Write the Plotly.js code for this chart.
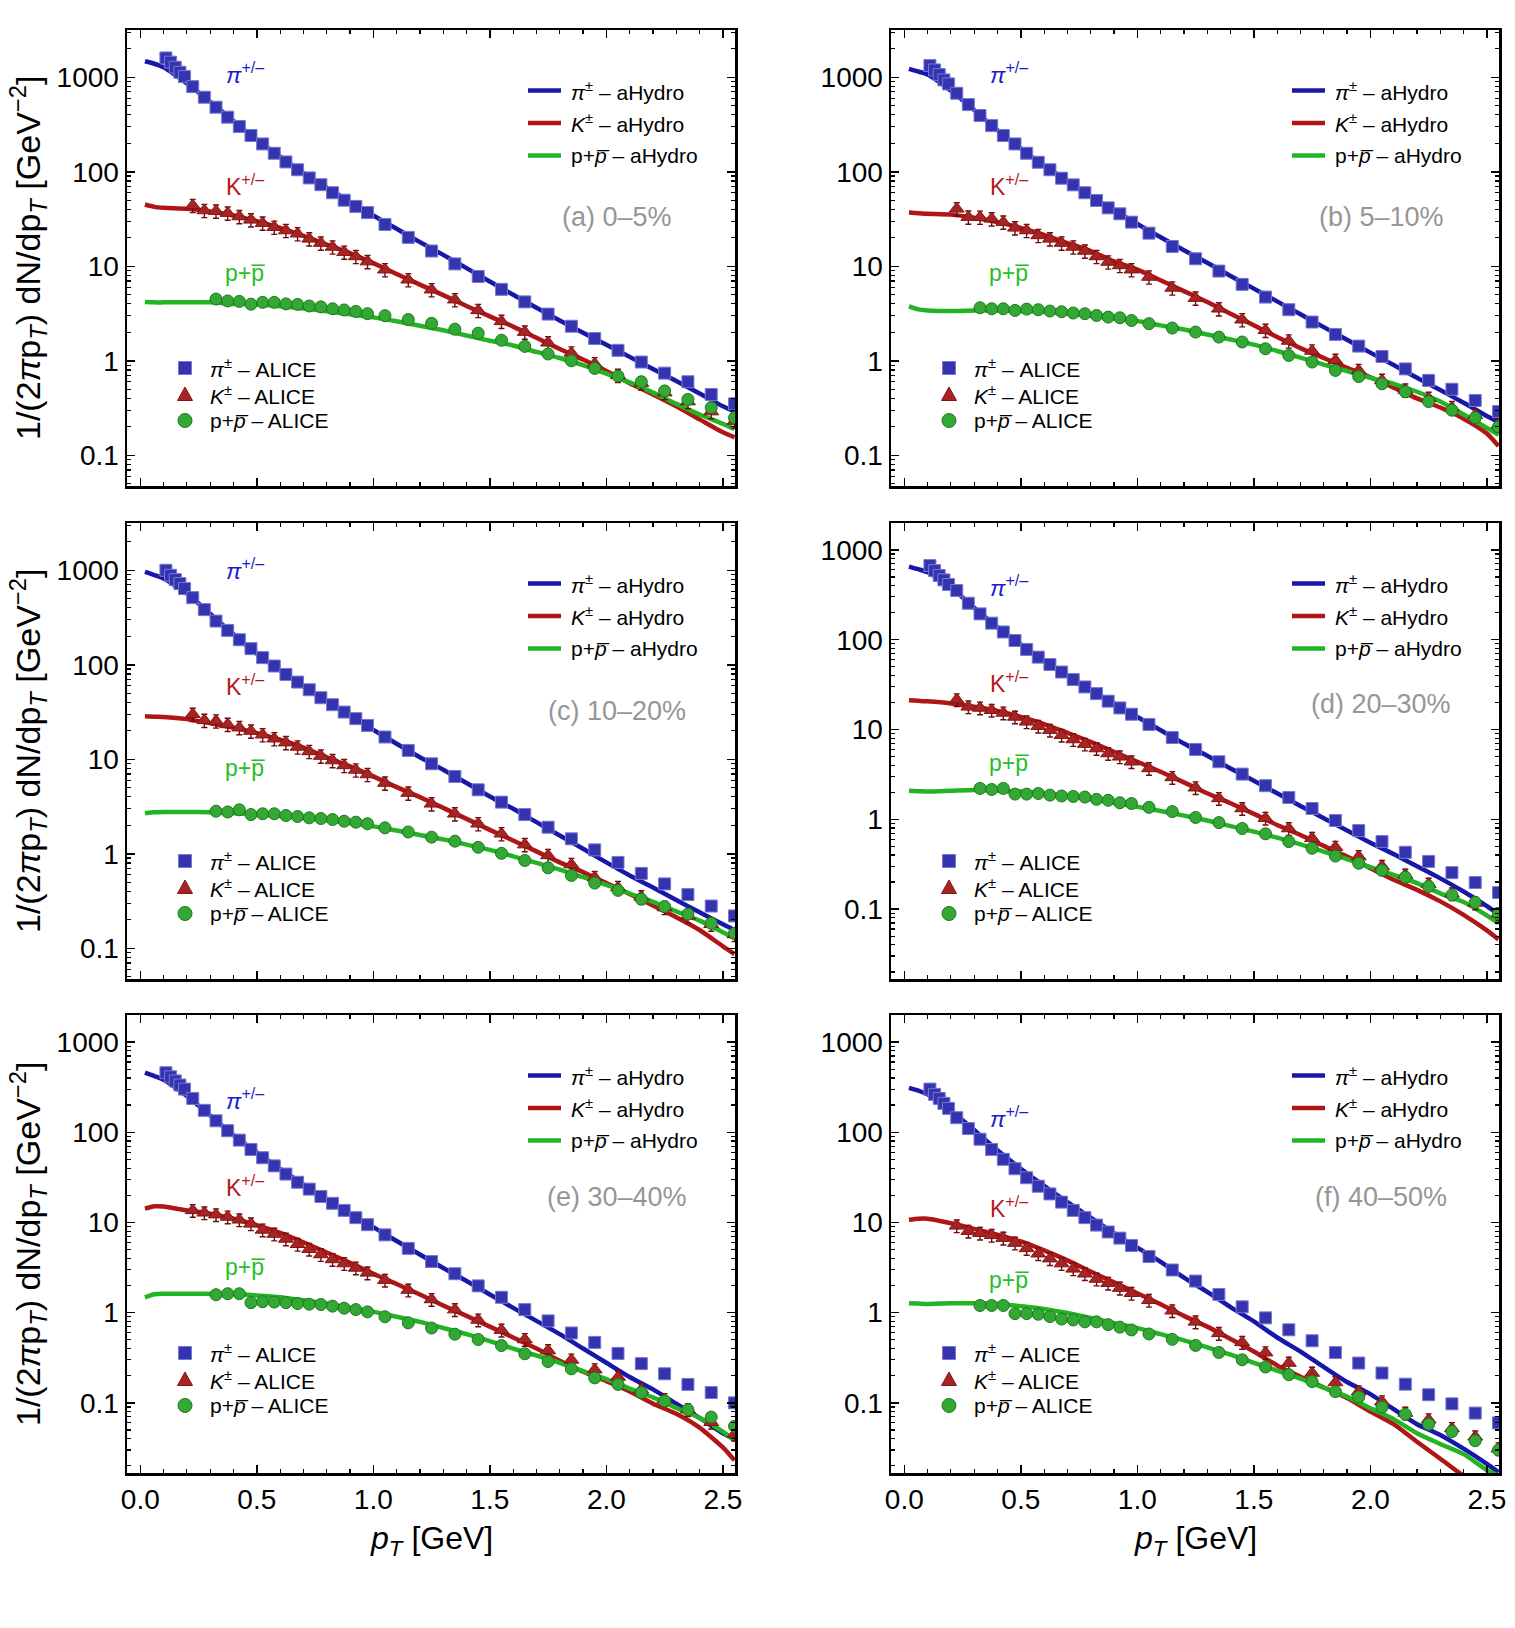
<!DOCTYPE html>
<html>
<head>
<meta charset="utf-8">
<script src="https://cdn.plot.ly/plotly-3.0.1.min.js"></script>
<style>
  html, body { margin: 0; padding: 0; background: #ffffff; }
  #chart { width: 1515px; height: 1628px; }
</style>
</head>
<body>
<div id="chart"></div>
<script>
// ---------------------------------------------------------------------------
// Transverse momenta (GeV)
// ---------------------------------------------------------------------------
const pTModel = [0.02, 0.06, 0.1, 0.2, 0.3, 0.4, 0.5, 0.6, 0.7, 0.8, 0.9, 1.0, 1.1, 1.2,
  1.3, 1.4, 1.5, 1.6, 1.7, 1.8, 1.9, 2.0, 2.1, 2.2, 2.3, 2.4, 2.5, 2.55];

const pTPion = [0.11, 0.13, 0.15, 0.17, 0.19, 0.225, 0.275, 0.325, 0.375, 0.425, 0.475,
  0.525, 0.575, 0.625, 0.675, 0.725, 0.775, 0.825, 0.875, 0.925, 0.975, 1.05, 1.15, 1.25,
  1.35, 1.45, 1.55, 1.65, 1.75, 1.85, 1.95, 2.05, 2.15, 2.25, 2.35, 2.45, 2.55];

const pTKaon = [0.225, 0.275, 0.325, 0.375, 0.425, 0.475, 0.525, 0.575, 0.625, 0.675,
  0.725, 0.775, 0.825, 0.875, 0.925, 0.975, 1.05, 1.15, 1.25, 1.35, 1.45, 1.55, 1.65,
  1.75, 1.85, 1.95, 2.05, 2.15, 2.25, 2.35, 2.45, 2.55];

const pTProton = [0.325, 0.375, 0.425, 0.475, 0.525, 0.575, 0.625, 0.675, 0.725, 0.775,
  0.825, 0.875, 0.925, 0.975, 1.05, 1.15, 1.25, 1.35, 1.45, 1.55, 1.65, 1.75, 1.85, 1.95,
  2.05, 2.15, 2.25, 2.35, 2.45, 2.55];

// ---------------------------------------------------------------------------
// aHydro spectra 1/(2π pT) dN/dpT  [GeV^-2] on the pTModel grid
// ---------------------------------------------------------------------------
const piModelA = [1475, 1390, 1275, 860, 550, 345, 218, 145, 97, 68, 48, 34.4, 24.9, 18.0,
  13.2, 9.55, 6.9, 5.0, 3.64, 2.67, 1.98, 1.48, 1.10, 0.82, 0.61, 0.45, 0.33, 0.29];
const kModelA = [45, 42.5, 41.5, 40.5, 38, 34.5, 30, 25.5, 21, 17, 13.8, 10.8, 8.3, 6.4,
  4.95, 3.8, 2.95, 2.3, 1.75, 1.33, 1.03, 0.78, 0.58, 0.44, 0.33, 0.24, 0.175, 0.155];
const pModelA = [4.18, 4.15, 4.15, 4.15, 4.15, 4.0, 3.95, 3.78, 3.58, 3.35, 3.1, 2.88, 2.62,
  2.35, 2.1, 1.85, 1.63, 1.45, 1.24, 1.07, 0.9, 0.73, 0.59, 0.46, 0.35, 0.27, 0.215, 0.19];

const piModelB = [1225, 1150, 1070, 720, 450, 275, 176, 116, 80, 55, 39, 28, 20.3, 14.8,
  10.9, 7.9, 5.8, 4.25, 3.1, 2.27, 1.67, 1.22, 0.9, 0.66, 0.49, 0.36, 0.26, 0.225];
const kModelB = [37, 36.5, 35.9, 35.2, 32.6, 29.3, 25.5, 21.5, 17.6, 14.5, 11.3, 9.2, 7.1,
  5.46, 4.18, 3.15, 2.37, 1.78, 1.36, 1.07, 0.84, 0.67, 0.52, 0.40, 0.32, 0.244, 0.17, 0.125];
const pModelB = [3.76, 3.5, 3.41, 3.36, 3.41, 3.41, 3.36, 3.3, 3.15, 3.0, 2.8, 2.63, 2.37,
  2.14, 1.9, 1.68, 1.48, 1.27, 1.08, 0.91, 0.78, 0.66, 0.57, 0.47, 0.37, 0.27, 0.195, 0.165];

const piModelC = [960, 890, 816, 566, 347, 210, 131, 87, 59, 41.3, 29.1, 20.5, 14.6, 10.5,
  7.74, 5.6, 4.04, 2.99, 2.16, 1.56, 1.13, 0.81, 0.59, 0.44, 0.325, 0.24, 0.18, 0.156];
const kModelC = [28.5, 28.2, 28, 26.6, 24.1, 21.6, 18.9, 16.1, 13.3, 10.5, 8.4, 6.6, 5.07,
  3.97, 3.06, 2.34, 1.79, 1.38, 1.06, 0.81, 0.64, 0.49, 0.376, 0.283, 0.213, 0.156, 0.105, 0.087];
const pModelC = [2.69, 2.75, 2.77, 2.77, 2.75, 2.69, 2.6, 2.51, 2.4, 2.26, 2.12, 1.95, 1.76,
  1.58, 1.42, 1.25, 1.1, 0.94, 0.80, 0.68, 0.565, 0.47, 0.38, 0.31, 0.246, 0.196, 0.148, 0.128];

const piModelD = [653, 610, 565, 385, 227, 138, 88.8, 58, 39.5, 27.4, 19.5, 13.8, 9.84, 6.99,
  5.1, 3.69, 2.69, 1.95, 1.41, 1.03, 0.75, 0.55, 0.41, 0.30, 0.22, 0.157, 0.108, 0.088];
const kModelD = [21.2, 20.9, 20.6, 19.5, 17.9, 16.1, 13.8, 11.5, 9.18, 7.3, 5.65, 4.38, 3.39,
  2.58, 1.95, 1.51, 1.15, 0.865, 0.67, 0.506, 0.385, 0.286, 0.212, 0.164, 0.122, 0.0865, 0.058, 0.046];
const pModelD = [2.08, 2.06, 2.04, 2.08, 2.12, 2.08, 2.04, 1.94, 1.82, 1.67, 1.53, 1.38, 1.24,
  1.1, 0.97, 0.84, 0.73, 0.625, 0.527, 0.437, 0.36, 0.293, 0.24, 0.195, 0.15, 0.12, 0.085, 0.07];

const piModelE = [457, 420, 383, 252, 153, 92.8, 59.8, 39.4, 26.5, 18.0, 12.5, 8.87, 6.22,
  4.41, 3.13, 2.24, 1.59, 1.13, 0.81, 0.577, 0.40, 0.278, 0.193, 0.141, 0.098, 0.068, 0.046, 0.04];
const kModelE = [14.2, 15.1, 15.0, 13.6, 12.5, 11.0, 9.35, 7.66, 6.03, 4.64, 3.58, 2.7, 2.08,
  1.59, 1.2, 0.92, 0.70, 0.53, 0.40, 0.293, 0.221, 0.174, 0.134, 0.098, 0.0755, 0.053, 0.032, 0.023];
const pModelE = [1.48, 1.6, 1.62, 1.62, 1.62, 1.62, 1.55, 1.48, 1.37, 1.26, 1.13, 1.02, 0.90,
  0.79, 0.675, 0.577, 0.483, 0.40, 0.335, 0.278, 0.225, 0.183, 0.144, 0.115, 0.088, 0.068, 0.048, 0.038];

const piModelF = [311, 290, 263, 173, 106, 63, 39.4, 25.4, 16.8, 11.3, 7.59, 5.26, 3.66, 2.45,
  1.7, 1.15, 0.8, 0.53, 0.37, 0.25, 0.17, 0.125, 0.085, 0.058, 0.044, 0.031, 0.021, 0.017];
const kModelF = [10.7, 11.0, 11.0, 9.8, 8.5, 7.3, 6.15, 4.9, 3.8, 2.85, 2.17, 1.64, 1.24, 0.92,
  0.70, 0.51, 0.37, 0.26, 0.195, 0.148, 0.113, 0.08, 0.058, 0.037, 0.024, 0.0155, 0.011, 0.0095];
const pModelF = [1.27, 1.26, 1.25, 1.27, 1.27, 1.25, 1.18, 1.10, 0.99, 0.875, 0.764, 0.674,
  0.577, 0.493, 0.413, 0.342, 0.278, 0.228, 0.185, 0.147, 0.117, 0.087, 0.066, 0.046, 0.035,
  0.027, 0.018, 0.0155];

// ---------------------------------------------------------------------------
// ALICE measurements on the pTPion / pTKaon / pTProton bins
// ---------------------------------------------------------------------------
const piDataA = [1600, 1443, 1276, 1129, 1016, 796, 615, 482, 378, 301, 242, 197, 157, 127,
  105, 86, 73, 60, 50, 43, 37, 27.7, 20.2, 14.5, 10.6, 7.8, 5.7, 4.2, 3.12, 2.32, 1.72, 1.29,
  0.97, 0.74, 0.60, 0.44, 0.35];
const kDataA = [44, 38.9, 38.3, 36.5, 33.6, 31, 28.6, 25.9, 23.9, 22.1, 19.5, 17.6, 16, 14.1,
  12.7, 11.2, 9.2, 7.2, 5.65, 4.43, 3.41, 2.61, 2.01, 1.55, 1.21, 0.93, 0.70, 0.58, 0.46, 0.37,
  0.29, 0.23];
const pDataA = [4.5, 4.3, 4.25, 3.97, 4.15, 4.15, 4.0, 3.95, 3.8, 3.72, 3.55, 3.45, 3.33, 3.15,
  3.0, 2.73, 2.49, 2.16, 1.96, 1.65, 1.42, 1.18, 1.0, 0.83, 0.69, 0.60, 0.48, 0.39, 0.32, 0.25];

const piDataB = [1330, 1195, 1067, 937, 850, 677, 514, 394, 308, 242, 197, 157, 126, 105,
  85.5, 72.7, 60, 49.7, 41.5, 35.9, 29.3, 22.4, 16.2, 12.0, 8.9, 6.43, 4.72, 3.47, 2.57, 1.9,
  1.43, 1.11, 0.82, 0.62, 0.50, 0.38, 0.29];
const kDataB = [40.5, 33.1, 33, 31.8, 29.3, 25.5, 23.9, 21.2, 19.5, 17.6, 16.0, 14.5, 12.7,
  11.1, 10.2, 9.2, 7.7, 5.9, 4.6, 3.55, 2.72, 2.1, 1.62, 1.27, 1.01, 0.79, 0.62, 0.49, 0.40,
  0.32, 0.265, 0.21];
const pDataB = [3.64, 3.55, 3.55, 3.41, 3.52, 3.47, 3.36, 3.3, 3.2, 3.15, 3.02, 2.9, 2.85,
  2.67, 2.47, 2.22, 2.01, 1.78, 1.58, 1.34, 1.14, 0.97, 0.79, 0.68, 0.57, 0.47, 0.37, 0.30,
  0.25, 0.20];

const piDataC = [1000, 885, 796, 723, 640, 513, 383, 290, 231, 184, 148, 119, 97, 79, 65.6,
  54.4, 44.8, 37.8, 31.6, 26.9, 22.8, 17.2, 12.4, 8.96, 6.58, 4.75, 3.52, 2.6, 1.91, 1.44, 1.1,
  0.81, 0.62, 0.48, 0.37, 0.28, 0.22];
const kDataC = [29.9, 25.8, 25.4, 23.4, 21.6, 19.9, 18.2, 16.5, 15.0, 13.5, 12.1, 10.8, 9.7,
  8.6, 7.7, 6.9, 5.6, 4.39, 3.38, 2.65, 2.08, 1.63, 1.25, 0.96, 0.77, 0.56, 0.44, 0.35, 0.27,
  0.22, 0.18, 0.14];
const pDataC = [2.82, 2.77, 2.92, 2.6, 2.65, 2.65, 2.54, 2.48, 2.4, 2.36, 2.3, 2.21, 2.16,
  2.08, 1.88, 1.7, 1.5, 1.36, 1.17, 1.01, 0.85, 0.71, 0.59, 0.49, 0.41, 0.33, 0.276, 0.23,
  0.184, 0.144];

const piDataD = [670, 589, 519, 464, 412, 353, 255, 194, 153, 122, 98, 78, 64, 53, 43.7, 36,
  29.8, 25.1, 20.7, 17.4, 14.8, 11.4, 8.15, 6.0, 4.38, 3.19, 2.37, 1.75, 1.32, 0.97, 0.75,
  0.565, 0.43, 0.34, 0.255, 0.198, 0.153];
const kDataD = [21.5, 17.9, 17.4, 16.4, 15.3, 13.8, 12.2, 10.9, 9.84, 8.65, 7.74, 6.88, 6.15,
  5.41, 4.97, 4.38, 3.69, 2.93, 2.25, 1.71, 1.32, 1.03, 0.79, 0.615, 0.49, 0.385, 0.30, 0.24,
  0.19, 0.148, 0.117, 0.089];
const pDataD = [2.21, 2.15, 2.21, 1.91, 1.91, 1.94, 1.86, 1.82, 1.8, 1.77, 1.67, 1.63, 1.53,
  1.5, 1.36, 1.22, 1.05, 0.92, 0.79, 0.69, 0.565, 0.476, 0.39, 0.324, 0.27, 0.227, 0.179,
  0.144, 0.119, 0.089];

const piDataE = [457, 412, 371, 334, 301, 237, 175, 134, 104, 81.8, 64.4, 52.2, 42.4, 34.4,
  27.9, 23.4, 19.4, 16.3, 13.6, 11.3, 9.45, 7.28, 5.16, 3.69, 2.7, 1.98, 1.48, 1.08, 0.81,
  0.595, 0.468, 0.353, 0.272, 0.21, 0.16, 0.13, 0.1];
const kDataE = [13.6, 12.8, 12.2, 11.5, 10.7, 9.65, 8.25, 7.43, 6.56, 5.73, 5.05, 4.41, 3.89,
  3.5, 3.13, 2.76, 2.29, 1.78, 1.4, 1.08, 0.83, 0.64, 0.504, 0.38, 0.299, 0.233, 0.193, 0.14,
  0.109, 0.084, 0.061, 0.045];
const pDataE = [1.58, 1.62, 1.62, 1.29, 1.32, 1.31, 1.29, 1.26, 1.24, 1.23, 1.18, 1.12, 1.08,
  1.02, 0.90, 0.77, 0.675, 0.577, 0.504, 0.431, 0.35, 0.287, 0.238, 0.189, 0.16, 0.13, 0.105,
  0.084, 0.0695, 0.055];

const piDataF = [301, 263, 237, 209, 184, 145, 110, 83.6, 64.4, 50.1, 39.4, 31.3, 25.2, 20.7,
  16.8, 13.6, 11.3, 9.35, 7.84, 6.7, 5.55, 4.19, 2.97, 2.24, 1.59, 1.16, 0.875, 0.645, 0.488,
  0.361, 0.276, 0.214, 0.161, 0.123, 0.0975, 0.077, 0.060];
const kDataF = [9.17, 8.0, 7.6, 7.2, 6.7, 5.91, 5.16, 4.5, 3.97, 3.5, 3.06, 2.7, 2.36, 2.12,
  1.87, 1.64, 1.37, 1.05, 0.79, 0.589, 0.468, 0.36, 0.276, 0.214, 0.168, 0.133, 0.103, 0.077,
  0.065, 0.052, 0.042, 0.031];
const pDataF = [1.2, 1.2, 1.2, 0.975, 0.975, 0.96, 0.905, 0.85, 0.83, 0.79, 0.79, 0.736, 0.69,
  0.643, 0.58, 0.506, 0.433, 0.362, 0.30, 0.25, 0.205, 0.172, 0.133, 0.116, 0.0895, 0.0748,
  0.058, 0.048, 0.038, 0.030];

// Centrality classes and axis tick labels
const centralityLabels = ['(a) 0\u20135%', '(b) 5\u201310%', '(c) 10\u201320%',
  '(d) 20\u201330%', '(e) 30\u201340%', '(f) 40\u201350%'];
const xTickVals = [0, 0.5, 1.0, 1.5, 2.0, 2.5];
const xTickText = ['0.0', '0.5', '1.0', '1.5', '2.0', '2.5'];
const yTickVals = [0.1, 1, 10, 100, 1000];
const yTickText = ['0.1', '1', '10', '100', '1000'];

// ---------------------------------------------------------------------------
// Page geometry and styling
// ---------------------------------------------------------------------------
const W = 1515, H = 1628;
const FONT = '"Liberation Sans", Arial, Helvetica, sans-serif';
const COL_LEFT = [127, 891];
const PANEL_W = 608;
const ROW_TOP = [30, 523, 1015];
const PANEL_H = [456, 456, 458];
const X_RANGE = [-0.057, 2.552];
const Y_RANGE_CENTRAL = [-1.325, 3.5];
const Y_RANGE_PERIPH = [-1.778, 3.3];

const BLUE = 'rgb(24,24,168)', RED = 'rgb(176,22,22)', GREEN = 'rgb(34,180,34)';
const STYLE = {
  pion:   { line: BLUE,  fill: 'rgb(52,52,176)',  edge: 'rgb(120,120,210)', err: 'rgb(20,20,90)',  sym: 'square',      size: 12, errPct: 5,  label: 'rgb(28,28,205)' },
  kaon:   { line: RED,   fill: 'rgb(168,36,36)',  edge: 'rgb(130,20,20)',   err: 'rgb(110,10,10)', sym: 'triangle-up', size: 13, errPct: 16, label: 'rgb(182,24,24)' },
  proton: { line: GREEN, fill: 'rgb(52,168,52)',  edge: 'rgb(30,120,30)',   err: 'rgb(20,95,20)',  sym: 'circle',      size: 12, errPct: 9,  label: 'rgb(40,190,40)' }
};

const panels = [
  { pi: piModelA, k: kModelA, p: pModelA, piD: piDataA, kD: kDataA, pD: pDataA, yr: Y_RANGE_CENTRAL },
  { pi: piModelB, k: kModelB, p: pModelB, piD: piDataB, kD: kDataB, pD: pDataB, yr: Y_RANGE_CENTRAL },
  { pi: piModelC, k: kModelC, p: pModelC, piD: piDataC, kD: kDataC, pD: pDataC, yr: Y_RANGE_CENTRAL },
  { pi: piModelD, k: kModelD, p: pModelD, piD: piDataD, kD: kDataD, pD: pDataD, yr: Y_RANGE_PERIPH },
  { pi: piModelE, k: kModelE, p: pModelE, piD: piDataE, kD: kDataE, pD: pDataE, yr: Y_RANGE_PERIPH },
  { pi: piModelF, k: kModelF, p: pModelF, piD: piDataF, kD: kDataF, pD: pDataF, yr: Y_RANGE_PERIPH }
];

// in-panel label placement (pixel offsets from the panel's top-left corner)
const SPECIES_LABEL_X = 118;
const SPECIES_LABEL_Y = [[43, 155, 243], [43, 155, 243], [46, 162, 245],
                         [63, 159, 240], [84, 171, 252], [102, 192, 265]];
const CENT_LABEL_X = 490;
const CENT_LABEL_Y = [187, 187, 188, 181, 182, 182];

const fx = px => px / W;
const fy = py => 1 - py / H;

// minor tick positions on the logarithmic axes
const yMinor = [];
for (let e = -2; e <= 3; e++) {
  for (let m = 2; m <= 9; m++) yMinor.push(m * Math.pow(10, e));
}
const xMinor = [];
for (let t = 1; t <= 25; t++) if (t % 5 !== 0) xMinor.push(t / 10);

const traces = [];
const annotations = [];
const shapes = [];
const layout = {
  width: W, height: H,
  margin: { l: 0, r: 0, t: 0, b: 0 },
  paper_bgcolor: '#ffffff',
  plot_bgcolor: '#ffffff',
  showlegend: false,
  font: { family: FONT, color: '#000000' }
};

const speciesText = [
  '<i>\u03c0</i><sup>+/\u2013</sup>',
  'K<sup>+/\u2013</sup>',
  'p+p\u0305'
];
const modelLegend = [
  '<i>\u03c0</i><sup>\u00b1</sup> \u2013 aHydro',
  '<i>K</i><sup>\u00b1</sup> \u2013 aHydro',
  'p+<i>p\u0305</i> \u2013 aHydro'
];
const dataLegend = [
  '<i>\u03c0</i><sup>\u00b1</sup> \u2013 ALICE',
  '<i>K</i><sup>\u00b1</sup> \u2013 ALICE',
  'p+<i>p\u0305</i> \u2013 ALICE'
];
const speciesKeys = ['pion', 'kaon', 'proton'];

panels.forEach((P, i) => {
  const n = i === 0 ? '' : String(i + 1);
  const xa = 'x' + n, ya = 'y' + n;
  const col = i % 2, row = Math.floor(i / 2);
  const left = COL_LEFT[col], top = ROW_TOP[row], h = PANEL_H[row];
  const bottomRow = row === 2;

  layout['xaxis' + n] = {
    domain: [fx(left), fx(left + PANEL_W)],
    anchor: ya,
    range: X_RANGE,
    showgrid: false, zeroline: false,
    showline: true, linecolor: '#000', linewidth: 2.5, mirror: 'allticks',
    ticks: 'inside', ticklen: 8, tickwidth: 1.5, tickcolor: '#000',
    tickmode: 'array', tickvals: xTickVals, ticktext: xTickText,
    showticklabels: bottomRow,
    tickfont: { family: FONT, size: 28, color: '#000' },
    minor: { tickmode: 'array', tickvals: xMinor, ticks: 'inside', ticklen: 4, tickwidth: 1.2, tickcolor: '#000', showgrid: false },
    fixedrange: true
  };
  layout['yaxis' + n] = {
    domain: [fy(top + h), fy(top)],
    anchor: xa,
    type: 'log',
    range: P.yr,
    showgrid: false, zeroline: false,
    showline: true, linecolor: '#000', linewidth: 2.5, mirror: 'allticks',
    ticks: 'inside', ticklen: 8, tickwidth: 1.5, tickcolor: '#000',
    tickmode: 'array', tickvals: yTickVals, ticktext: yTickText,
    tickfont: { family: FONT, size: 28, color: '#000' },
    minor: { tickmode: 'array', tickvals: yMinor, ticks: 'inside', ticklen: 4, tickwidth: 1.2, tickcolor: '#000', showgrid: false },
    fixedrange: true
  };

  // model curves
  [[P.pi, 'pion'], [P.k, 'kaon'], [P.p, 'proton']].forEach(([y, key]) => {
    traces.push({
      x: pTModel, y: y, xaxis: xa, yaxis: ya,
      type: 'scatter', mode: 'lines',
      line: { color: STYLE[key].line, width: 4.5, shape: 'spline', smoothing: 0.6 },
      hoverinfo: 'skip'
    });
  });

  // measured points
  [[pTPion, P.piD, 'pion'], [pTKaon, P.kD, 'kaon'], [pTProton, P.pD, 'proton']].forEach(([x, y, key]) => {
    const s = STYLE[key];
    traces.push({
      x: x, y: y, xaxis: xa, yaxis: ya,
      type: 'scatter', mode: 'markers',
      marker: { symbol: s.sym, size: s.size, color: s.fill, line: { color: s.edge, width: 1 } },
      error_y: { type: 'percent', value: s.errPct, color: s.err, thickness: 1.4, width: 3 },
      hoverinfo: 'skip'
    });
  });

  // species labels
  speciesKeys.forEach((key, j) => {
    annotations.push({
      xref: 'paper', yref: 'paper',
      x: fx(left + SPECIES_LABEL_X), y: fy(top + SPECIES_LABEL_Y[i][j]),
      xanchor: 'center', yanchor: 'middle', showarrow: false,
      text: speciesText[j],
      font: { family: FONT, size: 23, color: STYLE[key].label }
    });
  });

  // centrality class
  annotations.push({
    xref: 'paper', yref: 'paper',
    x: fx(left + CENT_LABEL_X), y: fy(top + CENT_LABEL_Y[i]),
    xanchor: 'center', yanchor: 'middle', showarrow: false,
    text: centralityLabels[i],
    font: { family: FONT, size: 27, color: 'rgb(150,150,150)' }
  });

  // key for the model curves (upper right)
  const legRows = [60.5, 93, 125.5];
  speciesKeys.forEach((key, j) => {
    const yy = top + legRows[j];
    shapes.push({
      type: 'line', xref: 'paper', yref: 'paper',
      x0: fx(left + 401), x1: fx(left + 434), y0: fy(yy), y1: fy(yy),
      line: { color: STYLE[key].line, width: 4.5 }
    });
    annotations.push({
      xref: 'paper', yref: 'paper',
      x: fx(left + 442), y: fy(yy),
      xanchor: 'left', yanchor: 'middle', showarrow: false,
      text: modelLegend[j],
      font: { family: FONT, size: 21, color: '#000' }
    });
  });

  // key for the measured points (lower left)
  const dataRows = [338, 364.5, 390.5];
  speciesKeys.forEach((key, j) => {
    const s = STYLE[key];
    const cx = left + 58, cy = top + dataRows[j];
    if (key === 'pion') {
      shapes.push({
        type: 'rect', xref: 'paper', yref: 'paper',
        x0: fx(cx - 6.5), x1: fx(cx + 6.5), y0: fy(cy + 6.5), y1: fy(cy - 6.5),
        fillcolor: s.fill, line: { color: s.edge, width: 1 }
      });
    } else if (key === 'kaon') {
      const path = 'M ' + fx(cx - 7.5) + ',' + fy(cy + 6) +
                   ' L ' + fx(cx + 7.5) + ',' + fy(cy + 6) +
                   ' L ' + fx(cx) + ',' + fy(cy - 7.5) + ' Z';
      shapes.push({
        type: 'path', xref: 'paper', yref: 'paper', path: path,
        fillcolor: s.fill, line: { color: s.edge, width: 1 }
      });
    } else {
      shapes.push({
        type: 'circle', xref: 'paper', yref: 'paper',
        x0: fx(cx - 7), x1: fx(cx + 7), y0: fy(cy + 7), y1: fy(cy - 7),
        fillcolor: s.fill, line: { color: s.edge, width: 1 }
      });
    }
    annotations.push({
      xref: 'paper', yref: 'paper',
      x: fx(left + 81), y: fy(cy),
      xanchor: 'left', yanchor: 'middle', showarrow: false,
      text: dataLegend[j],
      font: { family: FONT, size: 21, color: '#000' }
    });
  });

  // axis titles
  if (col === 0) {
    annotations.push({
      xref: 'paper', yref: 'paper',
      x: fx(28), y: fy(top + h / 2),
      xanchor: 'center', yanchor: 'middle', showarrow: false,
      textangle: -90,
      text: '1/(2<i>\u03c0</i>p<sub><i>T</i></sub>) dN/dp<sub><i>T</i></sub> [GeV<sup>\u22122</sup>]',
      font: { family: FONT, size: 34, color: '#000' }
    });
  }
  if (bottomRow) {
    annotations.push({
      xref: 'paper', yref: 'paper',
      x: fx(left + PANEL_W / 2), y: fy(1540),
      xanchor: 'center', yanchor: 'middle', showarrow: false,
      text: '<i>p</i><sub><i>T</i></sub> [GeV]',
      font: { family: FONT, size: 32, color: '#000' }
    });
  }
});

layout.annotations = annotations;
layout.shapes = shapes;

Plotly.newPlot('chart', traces, layout, { displayModeBar: false, staticPlot: true });
</script>
</body>
</html>
